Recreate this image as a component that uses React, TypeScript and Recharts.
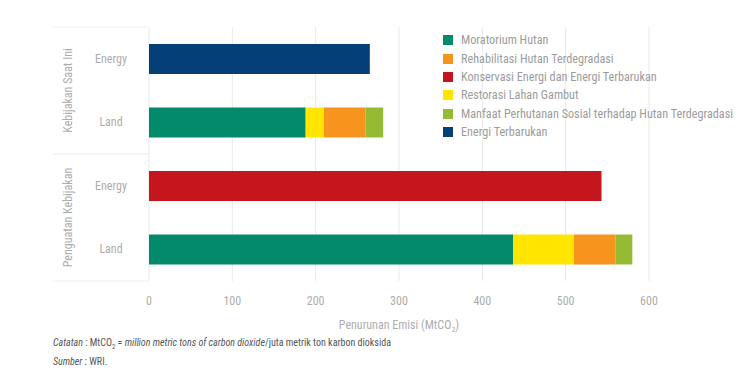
import { Bar, BarChart, CartesianGrid, XAxis, YAxis } from "recharts";

const FONT = "'Liberation Sans Narrow', 'Roboto Condensed', 'Arial Narrow', Roboto, sans-serif";

// rows, top to bottom
const groups = ["Kebijakan Saat Ini", "Kebijakan Saat Ini", "Penguatan Kebijakan", "Penguatan Kebijakan"];
const sectors = ["Energy", "Land", "Energy", "Land"];

// MtCO2
const moratoriumHutan = [0, 188, 0, 437];
const restorasiLahanGambut = [0, 22, 0, 73];
const rehabilitasiHutan = [0, 50, 0, 50];
const manfaatPerhutananSosial = [0, 21, 0, 20];
const konservasiEnergi = [0, 0, 543, 0];
const energiTerbarukan = [265, 0, 0, 0];

const xTicks = [0, 100, 200, 300, 400, 500, 600];

// stacking order inside a bar
const series = [
  { key: "moratorium", name: "Moratorium Hutan", color: "#038a6a", values: moratoriumHutan },
  { key: "restorasi", name: "Restorasi Lahan Gambut", color: "#ffe500", values: restorasiLahanGambut },
  { key: "rehabilitasi", name: "Rehabilitasi Hutan Terdegradasi", color: "#f7941d", values: rehabilitasiHutan },
  { key: "manfaat", name: "Manfaat Perhutanan Sosial terhadap Hutan Terdegradasi", color: "#95bb35", values: manfaatPerhutananSosial },
  { key: "konservasi", name: "Konservasi Energi dan Energi Terbarukan", color: "#c4161c", values: konservasiEnergi },
  { key: "energi", name: "Energi Terbarukan", color: "#053f78", values: energiTerbarukan },
];

// order used by the legend
const legendOrder = ["moratorium", "rehabilitasi", "konservasi", "restorasi", "manfaat", "energi"];

const data = sectors.map((sector, i) => {
  const row: Record<string, string | number> = { group: groups[i], sector };
  series.forEach((s) => {
    row[s.key] = s.values[i];
  });
  return row;
});

const LABEL = "#adadad";

function SectorTick({ x, y, payload }: any) {
  return (
    <text x={x - 38} y={y} dy={4} textAnchor="middle" fill={LABEL} fontSize={12} fontFamily={FONT}>
      {payload.value}
    </text>
  );
}

function GroupTick({ x, y, payload }: any) {
  const half = payload.offset || 63.5;
  return (
    <g>
      <line x1={x} x2={x + 96} y1={y - half} y2={y - half} stroke="#f1f1f1" />
      <line x1={x} x2={x + 96} y1={y + half} y2={y + half} stroke="#f1f1f1" />
      <text
        transform={`translate(${x + 15},${y}) rotate(-90)`}
        dy={4}
        textAnchor="middle"
        fill={LABEL}
        fontSize={12}
        fontFamily={FONT}
      >
        {payload.value}
      </text>
    </g>
  );
}

function AxisTitle({ viewBox }: any) {
  const { x, y, width } = viewBox;
  return (
    <text x={x + width / 2} y={y + 48} textAnchor="middle" fill={LABEL} fontSize={12} fontFamily={FONT}>
      Penurunan Emisi (MtCO
      <tspan fontSize={8} dy={3}>2</tspan>
      <tspan dy={-3}>)</tspan>
    </text>
  );
}

export default function App() {
  return (
    <div style={{ position: "absolute", left: 0, top: 0, width: 754, height: 371, background: "#fff", fontFamily: FONT }}>
      <BarChart
        width={754}
        height={371}
        data={data}
        layout="vertical"
        margin={{ top: 27, right: 105, bottom: 30, left: 23 }}
      >
        <CartesianGrid horizontal={false} stroke="#e9e9e9" />
        <XAxis
          type="number"
          domain={[0, 600]}
          ticks={xTicks}
          axisLine={false}
          tickLine={false}
          tickMargin={9}
          height={60}
          tick={{ fill: LABEL, fontSize: 12, fontFamily: FONT }}
          label={<AxisTitle />}
        />
        <YAxis
          yAxisId="cat"
          type="category"
          dataKey="sector"
          width={96}
          axisLine={false}
          tickLine={false}
          tickSize={0}
          tickMargin={0}
          tick={<SectorTick />}
        />
        <YAxis
          yAxisId="grp"
          type="category"
          dataKey="group"
          allowDuplicatedCategory={false}
          width={30}
          axisLine={false}
          tickLine={false}
          tickSize={0}
          tickMargin={0}
          tick={<GroupTick />}
        />
        {series.map((s) => (
          <Bar
            key={s.key}
            yAxisId="cat"
            dataKey={s.key}
            name={s.name}
            stackId="total"
            fill={s.color}
            barSize={30}
            isAnimationActive={false}
          />
        ))}
      </BarChart>

      <div style={{ position: "absolute", left: 443, top: 31 }}>
        {legendOrder.map((key) => {
          const s = series.find((item) => item.key === key)!;
          return (
            <div key={key} style={{ display: "flex", alignItems: "center", height: 18.4 }}>
              <span style={{ width: 10, height: 10, background: s.color, marginRight: 8 }} />
              <span style={{ fontSize: 12.2, color: "#9c9c9c", whiteSpace: "nowrap" }}>{s.name}</span>
            </div>
          );
        })}
      </div>

      <div style={{ position: "absolute", left: 53, top: 333, fontSize: 10, color: "#555", lineHeight: "19px" }}>
        <div>
          <i>Catatan</i> : MtCO<sub style={{ fontSize: 6.5, lineHeight: 0 }}>2</sub> = <i>million metric tons of carbon dioxide</i>/juta metrik ton karbon dioksida
        </div>
        <div>
          <i>Sumber</i> : WRI.
        </div>
      </div>
    </div>
  );
}
